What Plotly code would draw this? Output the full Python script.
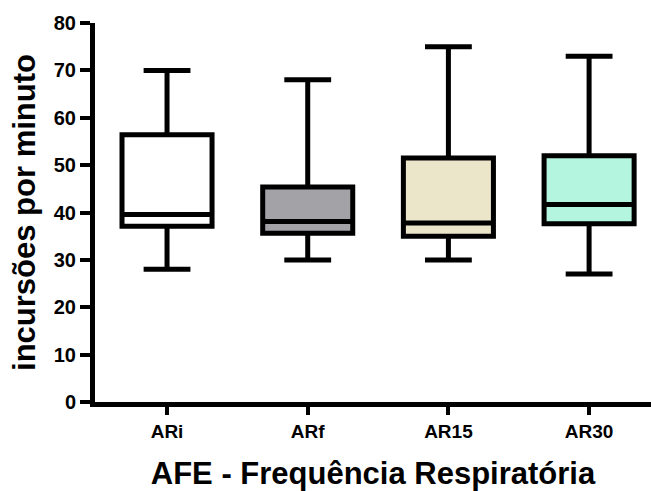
import plotly.graph_objects as go

categories = ["ARi", "ARf", "AR15", "AR30"]
minimum = [28, 30, 30, 27]
q1 = [37.1, 35.6, 35.0, 37.6]
median = [39.6, 38.1, 37.8, 41.7]
q3 = [56.4, 45.4, 51.5, 52.0]
maximum = [70, 68, 75, 73]
fill_colors = ["#FFFFFF", "#A3A2A7", "#EBE5C9", "#B3F5DE"]

y_ticks = [0, 10, 20, 30, 40, 50, 60, 70, 80]
x_title = "AFE - Frequência Respiratória"
y_title = "incursões por minuto"

FONT = "Arial, Liberation Sans, sans-serif"

fig = go.Figure()
for i, cat in enumerate(categories):
    fig.add_trace(go.Box(
        x=[cat],
        q1=[q1[i]], median=[median[i]], q3=[q3[i]],
        lowerfence=[minimum[i]], upperfence=[maximum[i]],
        fillcolor=fill_colors[i],
        line=dict(color="black", width=5),
        whiskerwidth=0.52,
        width=0.64,
        boxpoints=False,
        showlegend=False,
    ))

fig.update_layout(
    width=651, height=491,
    margin=dict(l=95, r=0, t=23, b=89),
    paper_bgcolor="white", plot_bgcolor="white",
    font=dict(family=FONT, color="black"),
    showlegend=False,
)
fig.update_xaxes(
    type="category",
    categoryorder="array", categoryarray=categories,
    range=[-0.512, 3.44],
    showline=True, linecolor="black", linewidth=5,
    ticks="outside", ticklen=8, tickwidth=4, tickcolor="black",
    tickfont=dict(size=19, family=FONT, color="black", weight="bold"),
    showgrid=False, zeroline=False,
    title=dict(text=x_title, font=dict(size=31, family=FONT, color="black", weight="bold"), standoff=24),
)
fig.update_yaxes(
    range=[0, 80],
    tickvals=y_ticks,
    showline=True, linecolor="black", linewidth=5,
    ticks="outside", ticklen=10, tickwidth=4, tickcolor="black",
    tickfont=dict(size=20, family=FONT, color="black", weight="bold"),
    showgrid=False, zeroline=False,
    title=dict(text=y_title, font=dict(size=31, family=FONT, color="black", weight="bold"), standoff=10),
)

fig.write_html("out.html")
